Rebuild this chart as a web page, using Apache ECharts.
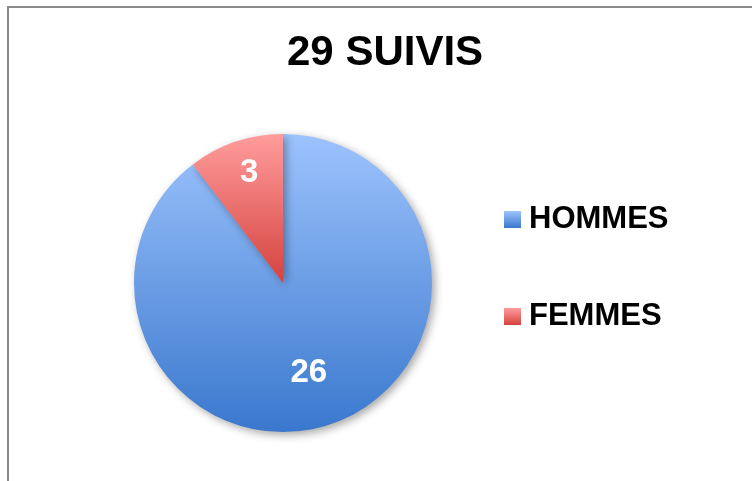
<!DOCTYPE html>
<html>
<head>
<meta charset="utf-8">
<script src="https://cdn.jsdelivr.net/npm/echarts@6/dist/echarts.min.js"></script>
<style>
  html, body { margin: 0; padding: 0; background: #fff; }
  #chart { width: 752px; height: 481px; }
</style>
</head>
<body>
<div id="chart"></div>
<script>
// données
var categories = ['HOMMES', 'FEMMES'];
var values = [26, 3];
var titleText = '29 SUIVIS';

// dégradés des parts
var colorsTop = ['#9dc3fd', '#ff9d9c'];
var colorsBottom = ['#3a78cd', '#d5423f'];
// décalage des étiquettes
var labelOffsets = [[1, 16], [-9, -37]];

var chart = echarts.init(document.getElementById('chart'));

var pieData = categories.map(function (name, i) {
  return {
    name: name,
    value: values[i],
    itemStyle: {
      color: new echarts.graphic.LinearGradient(0, 0, 0, 1, [
        { offset: 0, color: colorsTop[i] },
        { offset: 1, color: colorsBottom[i] }
      ])
    },
    label: { offset: labelOffsets[i] }
  };
});

var option = {
  backgroundColor: '#fff',
  animation: false,
  title: {
    text: titleText,
    left: 282,
    top: 27,
    textStyle: {
      fontFamily: 'Liberation Sans, Arial, sans-serif',
      fontWeight: 'bold',
      fontSize: 42,
      color: '#000'
    }
  },
  legend: {
    orient: 'vertical',
    left: 499,
    top: 199,
    icon: 'rect',
    itemWidth: 17,
    itemHeight: 17,
    itemGap: 66,
    data: categories,
    textStyle: {
      fontFamily: 'Liberation Sans, Arial, sans-serif',
      fontWeight: 'bold',
      fontSize: 31,
      lineHeight: 31,
      color: '#000',
      padding: [0, 0, 0, 3]
    }
  },
  graphic: [{
    type: 'rect',
    shape: { x: 8, y: 7, width: 800, height: 600 },
    style: { fill: 'none', stroke: '#8a8a8a', lineWidth: 2 },
    silent: true
  }],
  series: [{
    type: 'pie',
    center: [283, 283],
    radius: [0, 149],
    startAngle: 90,
    clockwise: true,
    label: {
      show: true,
      position: 'inside',
      formatter: '{c}',
      fontFamily: 'Liberation Sans, Arial, sans-serif',
      fontWeight: 'bold',
      fontSize: 33,
      color: '#fff'
    },
    labelLine: { show: false },
    itemStyle: {
      shadowBlur: 8,
      shadowOffsetX: 3,
      shadowOffsetY: 3,
      shadowColor: 'rgba(0,0,0,0.35)'
    },
    emphasis: { disabled: true },
    data: pieData
  }]
};

chart.setOption(option);
</script>
</body>
</html>
